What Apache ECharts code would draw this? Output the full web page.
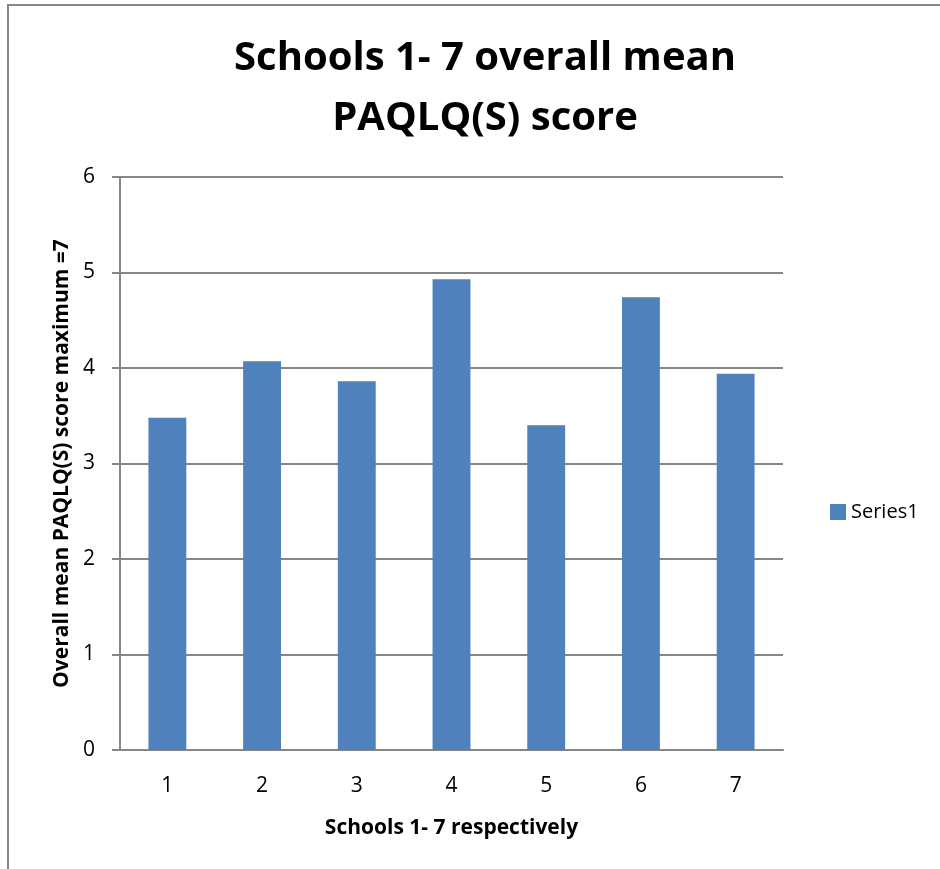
<!DOCTYPE html>
<html>
<head>
<meta charset="utf-8">
<script src="https://cdn.jsdelivr.net/npm/echarts@6/dist/echarts.min.js"></script>
<style>
  html, body { margin: 0; padding: 0; background: #fff; }
  #chart { width: 940px; height: 869px; }
</style>
</head>
<body>
<div id="chart"></div>
<script>
// data
const schools = ['1', '2', '3', '4', '5', '6', '7'];
const meanScores = [3.48, 4.07, 3.86, 4.93, 3.40, 4.74, 3.94];
const yTicks = [0, 6, 1]; // min, max, interval

const chart = echarts.init(document.getElementById('chart'));
const font = 'Open Sans';

chart.setOption({
  animation: false,
  graphic: [{
    type: 'rect',
    shape: { x: 8, y: 5, width: 1000, height: 1000 },
    style: { fill: 'none', stroke: '#868686', lineWidth: 2 }
  }],
  title: {
    text: 'Schools 1- 7 overall mean\nPAQLQ(S) score',
    left: 480,
    textAlign: 'center',
    top: 24,
    textStyle: {
      fontFamily: font,
      fontWeight: 'bold',
      fontSize: 40,
      lineHeight: 60,
      color: '#000'
    }
  },
  legend: {
    data: ['Series1'],
    orient: 'vertical',
    left: 825,
    top: 497,
    itemWidth: 16,
    itemHeight: 16,
    itemGap: 6,
    icon: 'rect',
    textStyle: { fontFamily: font, fontSize: 20, color: '#000' }
  },
  grid: {
    left: 120,
    right: 157,
    top: 177,
    bottom: 119
  },
  xAxis: {
    type: 'category',
    data: schools,
    name: 'Schools 1- 7 respectively',
    nameLocation: 'middle',
    nameGap: 68,
    nameTextStyle: { fontFamily: font, fontWeight: 'bold', fontSize: 21, color: '#000' },
    axisLine: { lineStyle: { color: '#868686', width: 2 } },
    axisTick: { show: false },
    axisLabel: { fontFamily: font, fontSize: 21, color: '#000', margin: 26 }
  },
  yAxis: {
    type: 'value',
    min: yTicks[0],
    max: yTicks[1],
    interval: yTicks[2],
    name: 'Overall mean PAQLQ(S) score maximum =7',
    nameLocation: 'middle',
    nameGap: 23,
    nameTextStyle: { fontFamily: font, fontWeight: 'bold', fontSize: 21, color: '#000' },
    axisLine: { show: true, lineStyle: { color: '#868686', width: 2 } },
    axisTick: { show: true, length: 8, lineStyle: { color: '#868686', width: 2 } },
    axisLabel: { fontFamily: font, fontSize: 21, color: '#000', margin: 25 },
    splitLine: { lineStyle: { color: '#868686', width: 2 } }
  },
  series: [{
    name: 'Series1',
    type: 'bar',
    data: meanScores,
    barWidth: '40%',
    itemStyle: { color: '#4F81BD' }
  }]
});
</script>
</body>
</html>
